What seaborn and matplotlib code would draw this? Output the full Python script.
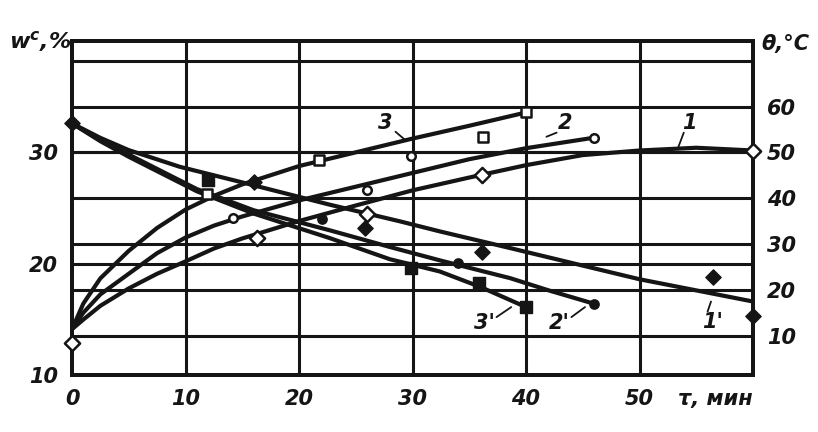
import numpy as np
import pandas as pd
import matplotlib
matplotlib.use("Agg")
import matplotlib.pyplot as plt
import seaborn as sns

# ---------------- data ----------------
# temperature curves theta, °C (right axis)
t_curve3 = [0, 1, 2.5, 5, 7.5, 10, 12.5, 15, 20, 25, 30, 35, 40]
th_curve3 = [11.4, 17, 22.5, 28.5, 33.5, 37.5, 40.5, 43, 47, 50, 53, 55.8, 58.7]
t_curve2 = [0, 1, 2.5, 5, 7.5, 10, 12.5, 15, 20, 25, 30, 35, 40, 46]
th_curve2 = [11.4, 15, 19, 23.5, 28, 31.4, 34, 36, 39.5, 42.5, 45.5, 48.5, 50.9, 53.2]
t_curve1 = [0, 1, 2.5, 5, 7.5, 10, 12.5, 15, 20, 25, 30, 35, 40, 45, 50, 55, 60]
th_curve1 = [11.4, 13.5, 16.5, 20.3, 23.5, 26.2, 29, 31.2, 35, 38.4, 41.7, 44.5, 47.2, 49.4, 50.4, 51, 50.4]

# moisture curves w, % (left axis)
t_curve1p = [0, 2.5, 5, 9.5, 15, 22.7, 28.9, 32.4, 38.6, 44.7, 50, 55, 60]
w_curve1p = [32.6, 31.3, 30.2, 28.7, 27.3, 25.3, 23.8, 22.9, 21.4, 19.9, 18.6, 17.6, 16.6]
t_curve2p = [0, 2.5, 5, 11, 16, 22.7, 28, 32.4, 38.6, 42, 46]
w_curve2p = [32.6, 31.1, 29.8, 26.7, 24.8, 23.0, 21.5, 20.3, 18.7, 17.6, 16.4]
t_curve3p = [0, 2.5, 5, 11, 16, 22.7, 28, 32.4, 36, 40]
w_curve3p = [32.6, 31.0, 29.6, 26.5, 24.5, 22.3, 20.4, 19.3, 17.9, 16.1]

# experimental points
t_pts1 = [0, 16.3, 26, 36.1, 60]
th_pts1 = [8.3, 31.4, 36.5, 45, 50.2]
t_pts2 = [14.2, 26, 29.9, 46]
th_pts2 = [35.6, 41.7, 49.3, 53.1]
t_pts3 = [11.9, 21.8, 36.2, 40]
th_pts3 = [41, 48.3, 53.3, 58.7]
t_pts1p = [0, 16, 25.8, 36.1, 56.5, 60]
w_pts1p = [32.6, 27.3, 23.2, 21.05, 18.8, 15.3]
t_pts2p = [22, 34, 46]
w_pts2p = [24.0, 20.1, 16.4]
t_pts3p = [12, 29.9, 35.9, 40]
w_pts3p = [27.5, 19.6, 18.3, 16.1]

x_ticks = [0, 10, 20, 30, 40, 50, 60]
x_ticklabels = ["0", "10", "20", "30", "40", "50", "τ, мин"]
w_ticks = [10, 20, 30]
th_ticks = [10, 20, 30, 40, 50, 60, 70]
th_ticklabels = ["10", "20", "30", "40", "50", "60", ""]

# ---------------- style ----------------
sns.set_style("white")
plt.rcParams['font.family'] = ['Liberation Sans Narrow', 'DejaVu Sans']
plt.rcParams['font.style'] = 'italic'
plt.rcParams['font.weight'] = 'bold'
INK = "#151515"
FS = 15

fig = plt.figure(figsize=(8.18, 4.32), dpi=100)
ax = fig.add_axes([72/818, 1-375/432, (753-72)/818, (375-41)/432])
ax2 = ax.twinx()

ax.set_xlim(0, 60)
ax.set_ylim(10, 40)
ax2.set_ylim(1.4, 74.3)

LW = 3.0
# moisture lines (left)
for t, w in [(t_curve1p, w_curve1p), (t_curve2p, w_curve2p), (t_curve3p, w_curve3p)]:
    sns.lineplot(x=t, y=w, ax=ax, color=INK, lw=LW, sort=False, legend=False, zorder=5)
# temperature lines (right)
for t, th in [(t_curve1, th_curve1), (t_curve2, th_curve2), (t_curve3, th_curve3)]:
    sns.lineplot(x=t, y=th, ax=ax2, color=INK, lw=LW, sort=False, legend=False, zorder=5)

# markers
sns.scatterplot(x=t_pts1, y=th_pts1, ax=ax2, marker="D", s=60, color="white",
                edgecolor=INK, linewidth=1.8, zorder=6, clip_on=False)
sns.scatterplot(x=t_pts2, y=th_pts2, ax=ax2, marker="o", s=38, color="white",
                edgecolor=INK, linewidth=1.8, zorder=6, clip_on=False)
sns.scatterplot(x=t_pts3, y=th_pts3, ax=ax2, marker="s", s=60, color="white",
                edgecolor=INK, linewidth=1.8, zorder=6, clip_on=False)
sns.scatterplot(x=t_pts1p, y=w_pts1p, ax=ax, marker="D", s=60, color=INK,
                edgecolor=INK, linewidth=1, zorder=6, clip_on=False)
sns.scatterplot(x=t_pts2p, y=w_pts2p, ax=ax, marker="o", s=45, color=INK,
                edgecolor=INK, linewidth=1, zorder=6, clip_on=False)
sns.scatterplot(x=t_pts3p, y=w_pts3p, ax=ax, marker="s", s=65, color=INK,
                edgecolor=INK, linewidth=1, zorder=6, clip_on=False)

# grid
GLW = 2.2
for xv in x_ticks[1:-1]:
    ax.axvline(xv, color=INK, lw=GLW, zorder=1)
for yv in [20, 30]:
    ax.axhline(yv, color=INK, lw=GLW, zorder=1)
for yv in th_ticks:
    ax2.axhline(yv, color=INK, lw=GLW, zorder=1)

for a in (ax, ax2):
    for s in a.spines.values():
        s.set_color(INK)
        s.set_linewidth(2.8)

# ticks
ax.set_xticks(x_ticks)
ax.set_xticklabels(x_ticklabels, fontsize=FS, color=INK)
ax.set_yticks(w_ticks)
ax.set_yticklabels([str(v) for v in w_ticks], fontsize=FS, color=INK)
ax2.set_yticks(th_ticks)
ax2.set_yticklabels(th_ticklabels, fontsize=FS, color=INK)
ax.tick_params(axis="both", length=0, pad=10)
ax2.tick_params(axis="y", length=0, pad=10)
labs = ax.get_xticklabels()
labs[-1].set_horizontalalignment("right")

ax.set_xlabel("")
ax.set_ylabel("")
ax2.set_ylabel("")

# axis titles
fig.text(40/818, 1-42/432, "w$^{c}$,%", fontsize=FS+1, color=INK, ha="center", va="center")
fig.text(785/818, 1-44/432, "θ,°C", fontsize=FS, color=INK, ha="center", va="center")

# curve labels (right axis coordinates for 1,2,3; left for 1',2',3')
for txt, tx, ty, lx0, ly0, lx1, ly1 in [("3", 27.6, 56.5, 28.5, 54.5, 29.4, 52.6),
                                        ("2", 43.4, 56.5, 42.7, 54.3, 41.8, 53.4),
                                        ("1", 54.4, 56.5, 53.9, 54.3, 53.4, 51.0)]:
    ax2.text(tx, ty, txt, fontsize=FS, color=INK, ha="center", va="center", zorder=7)
    ax2.plot([lx0, lx1], [ly0, ly1], color=INK, lw=1.3, zorder=7)
for txt, tx, ty, lx0, ly0, lx1, ly1 in [("3'", 36.3, 14.7, 37.4, 15.2, 38.7, 16.1),
                                        ("2'", 42.9, 14.7, 44.0, 15.2, 45.2, 16.1),
                                        ("1'", 56.4, 14.8, 56.0, 15.7, 56.3, 16.6)]:
    ax.text(tx, ty, txt, fontsize=FS, color=INK, ha="center", va="center", zorder=7)
    ax.plot([lx0, lx1], [ly0, ly1], color=INK, lw=1.3, zorder=7)

fig.savefig("out.png", dpi=100, facecolor="white")
